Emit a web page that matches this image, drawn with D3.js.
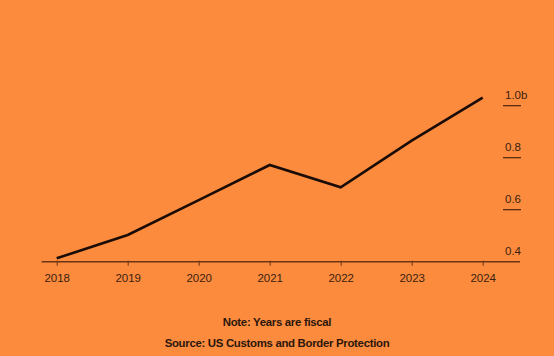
<!DOCTYPE html>
<html><head><meta charset="utf-8">
<script src="https://cdn.jsdelivr.net/npm/d3@7"></script>
<style>
html,body{margin:0;padding:0;background:#fd8b3e;}
svg{display:block;}
</style></head>
<body>
<svg id="c" width="554" height="356"></svg>
<script>
const years = [2018, 2019, 2020, 2021, 2022, 2023, 2024];
const values = [0.413, 0.503, 0.637, 0.772, 0.686, 0.866, 1.031];
const yTicks = [0.4, 0.6, 0.8, 1.0];
const yTickLabels = ["0.4", "0.6", "0.8", "1.0b"];
const note = "Note: Years are fiscal";
const source = "Source: US Customs and Border Protection";

const svg = d3.select("#c");
svg.append("rect").attr("width", 554).attr("height", 356).attr("fill", "#fd8b3e");

const x = d3.scaleLinear().domain([2018, 2024]).range([56.7, 482.7]);
const y = d3.scaleLinear().domain([0.4, 1.0]).range([261.7, 105.7]);

const dark = "#2b170c";
const font = "'Liberation Sans', Arial, sans-serif";

// y gridline stubs + labels
const yg = svg.append("g");
yTicks.forEach((t, i) => {
  if (i > 0) {
    yg.append("line").attr("x1", 503).attr("x2", 521)
      .attr("y1", y(t)).attr("y2", y(t))
      .attr("stroke", "#4a2410").attr("stroke-width", 1.2);
  }
  yg.append("text").attr("x", 505).attr("y", y(t) - 7)
    .attr("font-family", font).attr("font-size", 11.5).attr("fill", "#3a1e0e")
    .text(yTickLabels[i]);
});

// x axis
const xAxis = d3.axisBottom(x).tickValues(years).tickFormat(d3.format("d"))
  .tickSize(4).tickPadding(8);
const gx = svg.append("g").attr("transform", `translate(0,${y(0.4)})`).call(xAxis);
gx.select(".domain").remove();
gx.append("line").attr("x1", 41.7).attr("x2", 520).attr("y1", 0).attr("y2", 0)
  .attr("stroke", "#6a3416").attr("stroke-width", 1.5);
gx.selectAll(".tick line").attr("stroke", "#6a3416").attr("stroke-width", 1).attr("y1", -1);
gx.selectAll(".tick text").attr("font-family", font).attr("font-size", 11.5)
  .attr("fill", "#3a1e0e");

// line
const line = d3.line().x((d, i) => x(years[i])).y(d => y(d));
svg.append("path").datum(values).attr("d", line)
  .attr("fill", "none").attr("stroke", "#1a0c06").attr("stroke-width", 2.6)
  .attr("stroke-linejoin", "miter");

// footnotes
svg.append("text").attr("x", 277).attr("y", 325.5).attr("text-anchor", "middle")
  .attr("font-family", font).attr("font-weight", "bold").attr("font-size", 11.4)
  .attr("fill", dark).attr("letter-spacing", -0.3).text(note);
svg.append("text").attr("x", 277).attr("y", 346.5).attr("text-anchor", "middle")
  .attr("font-family", font).attr("font-weight", "bold").attr("font-size", 11.4)
  .attr("fill", dark).attr("letter-spacing", -0.3).text(source);
</script>
</body></html>
